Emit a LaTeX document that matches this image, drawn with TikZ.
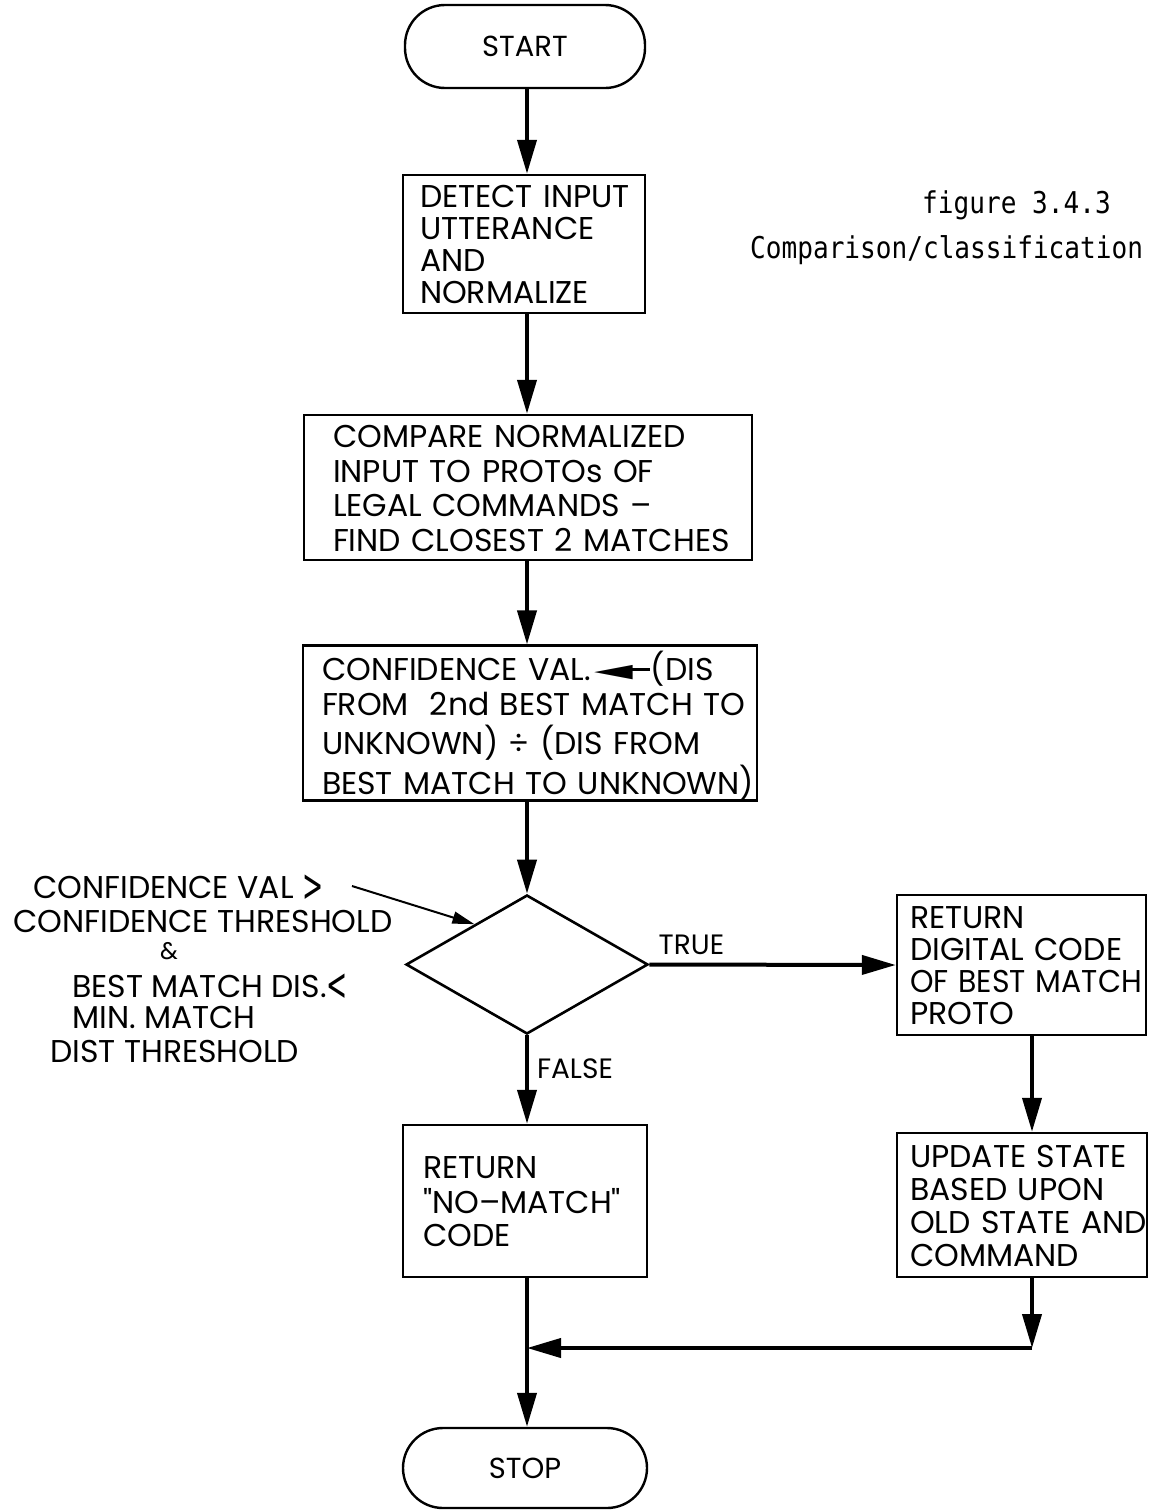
\documentclass[tikz,border=0pt]{standalone}
\usepackage{fontspec}
\usepackage{graphicx}
\setmainfont{Poppins}
\newfontfamily\qfont{Poppins}
\newfontfamily\capfont[FakeStretch=0.87]{DejaVu Sans Mono}
\newfontfamily\symfont{DejaVu Sans}
\usetikzlibrary{arrows.meta,shapes.geometric,calc}
% filled left arrow used inside the confidence box
\newcommand\fillarrow{\kern3pt\raisebox{3pt}{\scalebox{1.6}[0.6]{\symfont ◀}}\kern-3pt\rule[9pt]{20pt}{2.6pt}\kern1pt}
% straight double quote
\newcommand\sq{{\qfont\symbol{"22}}}
% tall chevrons of the condition text
\newcommand\gtsign{\raisebox{-3pt}{\scalebox{0.8}[1.45]{\symfont >}}}
\newcommand\ltsign{\raisebox{-3pt}{\scalebox{0.8}[1.45]{\symfont <}}}
% stacked left-aligned lines, lowered a little inside their box
\newcommand\boxlines[1]{\raisebox{-5pt}[\height][\depth]{\begin{tabular}{@{}l@{}}#1\end{tabular}}}
\begin{document}
\begin{tikzpicture}[x=1pt,y=-1pt,
  procbox/.style={draw,line width=2.4pt,rectangle,inner ysep=0pt,align=left,
    font=\fontsize{31.5pt}{#1}\selectfont},
  procbox/.default=33pt,
  termbox/.style={draw,line width=2.4pt,rectangle,rounded corners=40pt,inner sep=0pt,
    font=\fontsize{29pt}{31pt}\selectfont},
  decbox/.style={draw,line width=2.6pt,diamond,inner sep=0pt,minimum width=242pt,minimum height=139pt},
  conn/.style={line width=4pt,-{Triangle[length=34pt,width=19pt]}},
  thinconn/.style={line width=2pt,-{Triangle[length=22pt,width=12pt]}},
  lbl/.style={font=\fontsize{28pt}{30pt}\selectfont,inner sep=0pt},
  condtext/.style={font=\fontsize{31.5pt}{34pt}\selectfont,inner sep=0pt,anchor=base west},
  captext/.style={font=\capfont\fontsize{30pt}{32pt}\selectfont,inner sep=0pt,anchor=base west}
]
\useasboundingbox (0,0) rectangle (1149,1510);

% terminals
\node[termbox,minimum width=240pt,minimum height=83pt] (start) at (525,46.5) {START};
\node[termbox,minimum width=244pt,minimum height=80pt] (stop) at (525,1468) {STOP};

% process boxes
\node[procbox=32pt,minimum width=242pt,minimum height=138pt,inner xsep=17pt,text width=208pt] (detect) at (524,244)
  {\boxlines{DETECT INPUT\\UTTERANCE\\AND\\NORMALIZE}};
\node[procbox=34.5pt,minimum width=448pt,minimum height=145pt,inner xsep=29pt,text width=390pt] (compare) at (528,487.5)
  {\boxlines{COMPARE NORMALIZED\\INPUT TO PROTOs OF\\LEGAL COMMANDS --\\FIND CLOSEST 2 MATCHES}};
\node[procbox=35pt,minimum width=454pt,minimum height=140pt,inner xsep=19pt,text width=416pt] (conf) at (530,723)
  {\boxlines{CONFIDENCE VAL.\fillarrow(DIS\\FROM\ \ 2nd BEST MATCH TO\\UNKNOWN) ÷ (DIS FROM\\BEST MATCH TO UNKNOWN)}};
\node[decbox] (dec) at (527,964.5) {};
\node[procbox=32pt,minimum width=249pt,minimum height=140pt,inner xsep=13pt,text width=223pt] (retcode) at (1021.5,965)
  {\boxlines{RETURN\\DIGITAL CODE\\\scalebox{0.95}[1]{OF BEST MATCH}\\PROTO}};
\node[procbox=33pt,minimum width=250pt,minimum height=144pt,inner xsep=13pt,text width=224pt] (update) at (1022,1205)
  {\boxlines{UPDATE STATE\\BASED UPON\\OLD STATE AND\\COMMAND}};
\node[procbox=32.5pt,minimum width=244pt,minimum height=152pt,inner xsep=20pt,text width=204pt] (nomatch) at (525,1201)
  {\boxlines{RETURN\\\sq NO–MATCH\sq\\CODE}};

% condition tested by the decision
\node[condtext] (cond1) at (33,898) {CONFIDENCE VAL \gtsign};
\node[condtext] (cond2) at (13,932) {CONFIDENCE THRESHOLD};
\node[condtext,font=\fontsize{24pt}{26pt}\selectfont] (cond3) at (160,959) {\&};
\node[condtext] (cond4) at (72,997) {BEST MATCH DIS.\ltsign};
\node[condtext] (cond5) at (72,1028) {MIN. MATCH};
\node[condtext] (cond6) at (50,1062) {DIST THRESHOLD};

% caption
\node[captext] (cap1) at (922,213) {figure 3.4.3};
\node[captext] (cap2) at (750,258) {Comparison/classification};

% main column
\coordinate (colx) at (527,0);
\coordinate (rcolx) at (1032,0);
\draw[conn] (colx |- start.south) -- (colx |- detect.north);
\draw[conn] (colx |- detect.south) -- (colx |- compare.north);
\draw[conn] (colx |- compare.south) -- (colx |- conf.north);
\draw[conn] (colx |- conf.south) -- (dec.north);
\draw[conn] (dec.south) -- (colx |- nomatch.north) node[lbl,pos=0.38,anchor=west,xshift=8pt] (falselbl) {FALSE};
\draw[conn] (dec.east) -- (retcode.west) node[lbl,pos=0.03,anchor=south west,yshift=8pt] (truelbl) {TRUE};
\draw[conn] (rcolx |- retcode.south) -- (rcolx |- update.north);

% merge of the two branches
\coordinate (corner) at (1032,1348);
\coordinate (junction) at (527,1348);
\draw[conn] (rcolx |- update.south) -- (corner);
\draw[conn] (corner) -- (junction);
\draw[conn] (colx |- nomatch.south) -- (colx |- stop.north);

% pointer from the condition to the decision
\coordinate (condfrom) at (352,886);
\draw[thinconn] (condfrom) -- ($(dec.west)!0.57!(dec.north)$);
\end{tikzpicture}
\end{document}
